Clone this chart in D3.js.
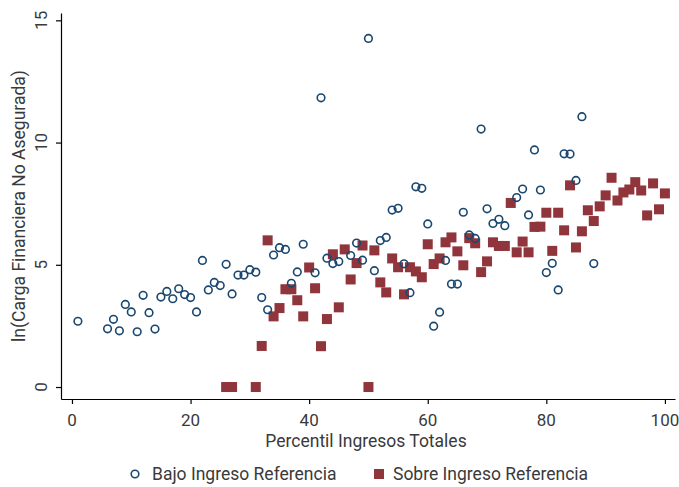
<!DOCTYPE html>
<html>
<head>
<meta charset="utf-8">
<script src="https://cdnjs.cloudflare.com/ajax/libs/d3/7.8.5/d3.min.js"></script>
<style>
  body { margin: 0; background: #fff; }
  text { font-family: Roboto, "Open Sans", sans-serif; fill: #3a3a3a; }
  .axis path, .axis line { stroke: #000; stroke-width: 1.2; }
</style>
</head>
<body>
<div id="chart"></div>
<script>
// percentiles and ln values
var bajoX = [1, 6, 7, 8, 9, 10, 11, 12, 13, 14, 15, 16, 17, 18, 19, 20, 21, 22, 23, 24, 25,
  26, 27, 28, 29, 30, 31, 32, 33, 34, 35, 36, 37, 38, 39, 41, 42, 43, 44, 45, 47, 48, 49, 50,
  51, 52, 53, 54, 55, 56, 57, 58, 59, 60, 61, 62, 63, 64, 65, 66, 67, 68, 69, 70, 71, 72, 73,
  75, 76, 77, 78, 79, 80, 81, 82, 83, 84, 85, 86, 88];
var bajoY = [2.69, 2.38, 2.77, 2.30, 3.38, 3.07, 2.26, 3.75, 3.04, 2.37, 3.68, 3.91, 3.61, 4.02, 3.78, 3.66, 3.07, 5.18, 3.97, 4.28, 4.15,
  5.02, 3.81, 4.58, 4.58, 4.80, 4.70, 3.66, 3.16, 5.40, 5.70, 5.63, 4.24, 4.71, 5.84, 4.67, 11.83, 5.27, 5.05, 5.13, 5.38, 5.89, 5.19, 14.26,
  4.76, 5.99, 6.12, 7.24, 7.31, 5.04, 3.86, 8.19, 8.13, 6.67, 2.49, 3.06, 5.18, 4.21, 4.21, 7.15, 6.22, 6.08, 10.55, 7.29, 6.69, 6.86, 6.60,
  7.75, 8.10, 7.04, 9.70, 8.06, 4.68, 5.06, 3.97, 9.54, 9.53, 8.45, 11.06, 5.05];

var sobreX = [26, 27, 31, 32, 33, 34, 35, 36, 37, 38, 39, 40, 41, 42, 43, 44, 45, 46, 47, 48, 49, 50,
  51, 52, 53, 54, 55, 56, 57, 58, 59, 60, 61, 62, 63, 64, 65, 66, 67, 68, 69, 70, 71, 72, 73, 74, 75,
  76, 77, 78, 79, 80, 81, 82, 83, 84, 85, 86, 87, 88, 89, 90, 91, 92, 93, 94, 95, 96, 97, 98, 99, 100];
var sobreY = [0, 0, 0, 1.68, 6.0, 2.89, 3.23, 4.0, 4.0, 3.55, 2.89, 4.89, 4.04, 1.67, 2.78, 5.43, 3.26, 5.63, 4.40, 5.07, 5.79, 0,
  5.59, 4.28, 3.87, 5.26, 4.90, 3.79, 4.90, 4.73, 4.49, 5.84, 5.03, 5.26, 5.92, 6.12, 5.55, 4.98, 6.09, 5.88, 4.70, 5.14, 5.92, 5.77, 5.77, 7.53, 5.51,
  5.95, 5.51, 6.55, 6.56, 7.13, 5.57, 7.13, 6.41, 8.25, 5.71, 6.37, 7.23, 6.79, 7.39, 7.84, 8.56, 7.63, 7.96, 8.08, 8.38, 8.04, 7.02, 8.33, 7.27, 7.92];

var xTicks = [0, 20, 40, 60, 80, 100];
var yTicks = [0, 5, 10, 15];
var seriesNames = ["Bajo Ingreso Referencia", "Sobre Ingreso Referencia"];

var width = 679, height = 487;
var navy = "#1a476f", maroon = "#90353b";

var svg = d3.select("#chart").append("svg")
  .attr("width", width)
  .attr("height", height);

var x = d3.scaleLinear().domain([-1.85, 101.7]).range([61, 675]);
var y = d3.scaleLinear().domain([-0.49, 15.3]).range([399, 13]);

// x axis
svg.append("g")
  .attr("class", "axis")
  .attr("transform", "translate(0," + y.range()[0] + ")")
  .call(d3.axisBottom(x).tickValues(xTicks).tickSize(5).tickSizeOuter(0).tickFormat(""));

svg.append("g").selectAll("text")
  .data(xTicks)
  .enter().append("text")
  .attr("x", function (d) { return x(d); })
  .attr("y", 426)
  .attr("text-anchor", "middle")
  .style("font-size", "17px")
  .text(function (d) { return d; });

// y axis, labels turned on their side
svg.append("g")
  .attr("class", "axis")
  .attr("transform", "translate(" + x.range()[0] + ",0)")
  .call(d3.axisLeft(y).tickValues(yTicks).tickSize(5).tickSizeOuter(0).tickFormat(""));

svg.append("g").selectAll("text")
  .data(yTicks)
  .enter().append("text")
  .attr("transform", function (d) { return "translate(47," + y(d) + ") rotate(-90)"; })
  .attr("text-anchor", "middle")
  .style("font-size", "17px")
  .text(function (d) { return d; });

// titles
svg.append("text")
  .attr("x", 366)
  .attr("y", 447)
  .attr("text-anchor", "middle")
  .style("font-size", "17.5px")
  .text("Percentil Ingresos Totales");

svg.append("text")
  .attr("transform", "translate(25,206) rotate(-90)")
  .attr("text-anchor", "middle")
  .style("font-size", "17.5px")
  .text("ln(Carga Financiera No Asegurada)");

// markers
var sq = 10;
svg.append("g").selectAll("rect")
  .data(sobreX)
  .enter().append("rect")
  .attr("x", function (d) { return x(d) - sq / 2; })
  .attr("y", function (d, i) { return y(sobreY[i]) - sq / 2; })
  .attr("width", sq)
  .attr("height", sq)
  .attr("fill", maroon);

svg.append("g").selectAll("circle")
  .data(bajoX)
  .enter().append("circle")
  .attr("cx", function (d) { return x(d); })
  .attr("cy", function (d, i) { return y(bajoY[i]); })
  .attr("r", 3.8)
  .attr("fill", "none")
  .attr("stroke", navy)
  .attr("stroke-width", 1.6);

// legend
var legend = svg.append("g").attr("transform", "translate(0,474)");
legend.append("circle")
  .attr("cx", 135).attr("cy", 0).attr("r", 3.8)
  .attr("fill", "none").attr("stroke", navy).attr("stroke-width", 1.6);
legend.append("text")
  .attr("x", 152).attr("y", 6)
  .style("font-size", "17.5px")
  .text(seriesNames[0]);
legend.append("rect")
  .attr("x", 374).attr("y", -5).attr("width", sq).attr("height", sq)
  .attr("fill", maroon);
legend.append("text")
  .attr("x", 393).attr("y", 6)
  .style("font-size", "17.5px")
  .text(seriesNames[1]);
</script>
</body>
</html>
